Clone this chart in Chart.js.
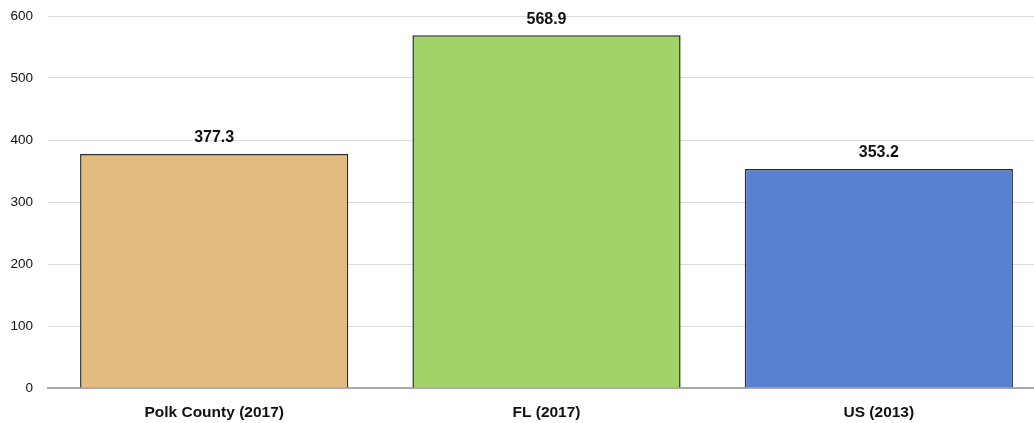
<!DOCTYPE html>
<html>
<head>
<meta charset="utf-8">
<script src="https://cdn.jsdelivr.net/npm/chart.js@4"></script>
<style>
  html, body { margin: 0; padding: 0; background: #fff; overflow: hidden; }
  #wrap { width: 1045px; height: 423px; }
</style>
</head>
<body>
<div id="wrap"><canvas id="rate_chart"></canvas></div>
<script>
const places = ['Polk County (2017)', 'FL (2017)', 'US (2013)'];
const rates = [377.3, 568.9, 353.2];
const barColors = ['#E4BB7E', '#A2D368', '#5781D1'];
const yTicks = [0, 100, 200, 300, 400, 500, 600];

// draws the value above each bar
const valueLabels = {
    id: 'valueLabels',
    afterDatasetsDraw(chart) {
        const ctx = chart.ctx;
        const meta = chart.getDatasetMeta(0);
        ctx.save();
        ctx.font = 'bold 16px "Liberation Sans", Arial, sans-serif';
        ctx.fillStyle = '#111';
        ctx.textAlign = 'center';
        ctx.textBaseline = 'bottom';
        meta.data.forEach((bar, i) => {
            ctx.fillText(rates[i].toFixed(1), bar.x, bar.y - 8);
        });
        ctx.restore();
    }
};

const ctx = document.getElementById('rate_chart').getContext('2d');
const chart = new Chart(ctx, {
    type: 'bar',
    data: {
        labels: places,
        datasets: [{
            data: rates,
            backgroundColor: barColors,
            borderColor: '#2a2a2a',
            borderWidth: 1.5,
            barPercentage: 0.807,
            categoryPercentage: 1
        }]
    },
    options: {
        responsive: true,
        maintainAspectRatio: false,
        animation: false,
        layout: { padding: { top: 16, right: 0, left: 0, bottom: 0 } },
        plugins: {
            legend: { display: false },
            tooltip: { enabled: false }
        },
        scales: {
            x: {
                grid: { display: false, drawTicks: false },
                border: { color: '#aaa', width: 2 },
                ticks: {
                    color: '#111',
                    padding: 15,
                    font: { family: '"Liberation Sans", Arial, sans-serif', size: 15.5, weight: 'bold' }
                },
                afterFit: (scale) => { scale.height = 35; }
            },
            y: {
                min: 0,
                max: 600,
                grid: { color: '#ddd', drawTicks: false },
                border: { display: false },
                afterBuildTicks: (scale) => { scale.ticks = yTicks.map(v => ({ value: v })); },
                ticks: {
                    color: '#111',
                    padding: 15,
                    font: { family: '"Liberation Sans", Arial, sans-serif', size: 13.5 }
                },
                afterFit: (scale) => {
                    scale.width = 48;
                    scale.paddingTop = 0;
                    scale.paddingBottom = 0;
                }
            }
        }
    },
    plugins: [valueLabels]
});
</script>
</body>
</html>
